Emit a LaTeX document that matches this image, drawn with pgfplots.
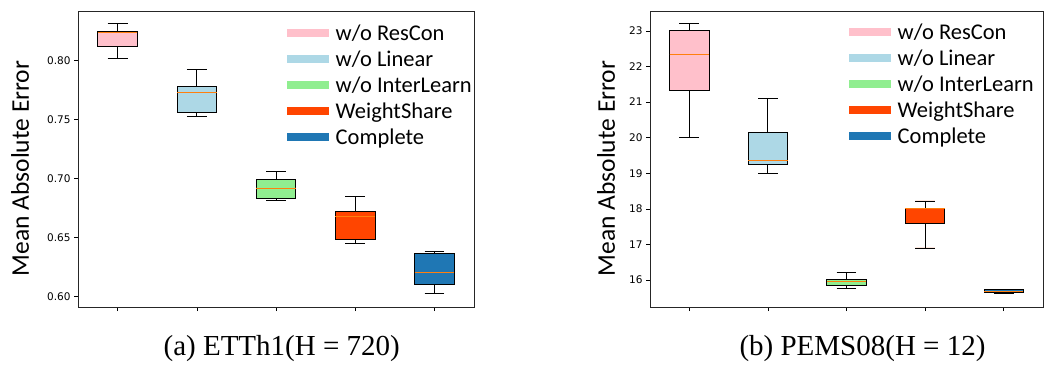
\documentclass[border=0pt]{standalone}
\usepackage{pgfplots}
\pgfplotsset{compat=1.18}
\usepgfplotslibrary{statistics}
\usepackage{fontspec}
\setmainfont{Liberation Serif}
\newfontfamily\calib{Carlito}
\newfontfamily\dejavu{DejaVu Sans}
\definecolor{mpink}{RGB}{255,192,203}
\definecolor{mblue}{RGB}{173,216,230}
\definecolor{mgreen}{RGB}{144,238,144}
\definecolor{mred}{RGB}{255,69,0}
\definecolor{mcomp}{RGB}{31,119,180}
\definecolor{morange}{RGB}{255,127,14}
\pgfplotsset{
  legend image code/.code={\path[fill,#1] (0pt,-4.25pt) rectangle (42pt,4.25pt);},
  myax/.style={
    scale only axis, height=296pt,
    xmin=0.5, xmax=5.5, xtick={1,2,3,4,5}, xticklabels={},
    tick align=outside, xtick pos=bottom, ytick pos=left,
    major tick length=4pt, tick style={black, line width=0.6pt},
    axis line style={black!85, line width=0.8pt},
    yticklabel style={font=\dejavu\fontsize{10.5}{12}\selectfont},
    /pgf/number format/assume math mode=true,
    ylabel style={font=\calib\fontsize{25.5}{30}\selectfont, anchor=center},
    legend style={draw=none, fill=none, inner sep=0pt,
      font=\calib\fontsize{22.5}{27}\selectfont, anchor=north west,
      cells={anchor=west}, row sep=11.5pt,
      nodes={inner sep=0pt, text height=14.5pt, text depth=0pt},
      /tikz/every odd column/.append style={column sep=6.5pt}},
    boxplot/draw direction=y,
    boxplot/box extend=0.5, boxplot/whisker extend=0.25,
    boxplot/every median/.style={draw=morange, line width=0.8pt},
  },
  mybox/.style={draw=black, line width=0.9pt, forget plot, boxplot/draw direction=y},
}
\begin{document}
\begin{tikzpicture}
\useasboundingbox (0,0) rectangle (1059pt,-368pt);
\begin{axis}[myax, at={(78pt,-11pt)}, anchor=north west, width=396pt,
  ymin=0.5913, ymax=0.8417, ytick={0.60,0.65,0.70,0.75,0.80},
  yticklabel style={/pgf/number format/.cd, fixed, fixed zerofill, precision=2},
  ylabel={Mean Absolute Error},
  ylabel style={at={(axis description cs:-0.146,0.468)}},
  legend style={at={(0.5278,0.9508)}}]
\addplot[mybox, fill=mpink, boxplot prepared={draw position=1, lower whisker=0.8017, lower quartile=0.8118, median=0.8237, upper quartile=0.8242, upper whisker=0.8310}] coordinates {};
\addplot[mybox, fill=mblue, boxplot prepared={draw position=2, lower whisker=0.7523, lower quartile=0.7557, median=0.7726, upper quartile=0.7780, upper whisker=0.7924}] coordinates {};
\addplot[mybox, fill=mgreen, boxplot prepared={draw position=3, lower whisker=0.6817, lower quartile=0.6828, median=0.6920, upper quartile=0.6994, upper whisker=0.7059}] coordinates {};
\addplot[mybox, fill=mred, boxplot prepared={draw position=4, lower whisker=0.6453, lower quartile=0.6484, median=0.6681, upper quartile=0.6721, upper whisker=0.6848}] coordinates {};
\addplot[mybox, fill=mcomp, boxplot prepared={draw position=5, lower whisker=0.6029, lower quartile=0.6108, median=0.6206, upper quartile=0.6362, upper whisker=0.6379}] coordinates {};
\addlegendimage{fill=mpink, draw=none}\addlegendentry{w/o ResCon}
\addlegendimage{fill=mblue, draw=none}\addlegendentry{w/o Linear}
\addlegendimage{fill=mgreen, draw=none}\addlegendentry{w/o InterLearn}
\addlegendimage{fill=mred, draw=none}\addlegendentry{WeightShare}
\addlegendimage{fill=mcomp, draw=none}\addlegendentry{Complete}
\end{axis}
\begin{axis}[myax, at={(650pt,-11pt)}, anchor=north west, width=393pt,
  ymin=15.24, ymax=23.56, ytick={16,17,18,19,20,21,22,23},
  ylabel={Mean Absolute Error},
  ylabel style={at={(axis description cs:-0.112,0.468)}},
  legend style={at={(0.5064,0.955)}}]
\addplot[mybox, fill=mpink, boxplot prepared={draw position=1, lower whisker=20.01, lower quartile=21.34, median=22.33, upper quartile=23.02, upper whisker=23.21}] coordinates {};
\addplot[mybox, fill=mblue, boxplot prepared={draw position=2, lower whisker=19.00, lower quartile=19.24, median=19.36, upper quartile=20.16, upper whisker=21.09}] coordinates {};
\addplot[mybox, fill=mgreen, boxplot prepared={draw position=3, lower whisker=15.77, lower quartile=15.85, median=15.95, upper quartile=16.02, upper whisker=16.22}] coordinates {};
\addplot[mybox, fill=mred, boxplot prepared={draw position=4, lower whisker=16.90, lower quartile=17.58, median=18.00, upper quartile=18.01, upper whisker=18.22}] coordinates {};
\addplot[mybox, fill=mcomp, boxplot prepared={draw position=5, lower whisker=15.62, lower quartile=15.65, median=15.69, upper quartile=15.72, upper whisker=15.72}] coordinates {};
\addlegendimage{fill=mpink, draw=none}\addlegendentry{w/o ResCon}
\addlegendimage{fill=mblue, draw=none}\addlegendentry{w/o Linear}
\addlegendimage{fill=mgreen, draw=none}\addlegendentry{w/o InterLearn}
\addlegendimage{fill=mred, draw=none}\addlegendentry{WeightShare}
\addlegendimage{fill=mcomp, draw=none}\addlegendentry{Complete}
\end{axis}
\node[anchor=base, font=\fontsize{29}{34}\selectfont] at (281.7pt,-355pt) {(a) ETTh1(H = 720)};
\node[anchor=base, font=\fontsize{29}{34}\selectfont] at (862.5pt,-355pt) {(b) PEMS08(H = 12)};
\end{tikzpicture}
\end{document}
